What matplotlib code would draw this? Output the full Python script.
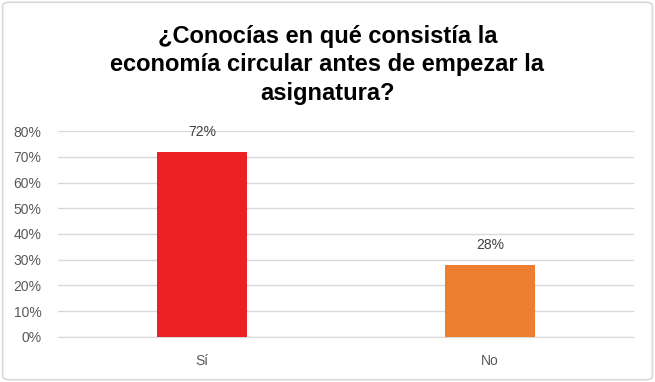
import matplotlib.pyplot as plt
from matplotlib.patches import FancyBboxPatch
from matplotlib.ticker import PercentFormatter

categories = ['Sí', 'No']
values = [0.72, 0.28]
bar_colors = ['#ED2024', '#ED7D31']
title = '¿Conocías en qué consistía la\neconomía circular antes de empezar la\nasignatura?'

plt.rcParams['font.family'] = ['Liberation Sans', 'DejaVu Sans']

fig = plt.figure(figsize=(6.55, 3.82), dpi=100)

# marco gris redondeado
frame = FancyBboxPatch((0.004, 0.006), 0.992, 0.988, boxstyle='round,pad=0,rounding_size=0.01',
                       transform=fig.transFigure, facecolor='white', edgecolor='#D9D9D9',
                       linewidth=1.2, zorder=-10)
fig.patches.append(frame)

ax = fig.add_axes([0.0885, 0.118, 0.8795, 0.539])
ax.set_facecolor('none')
x = range(len(categories))
bars = ax.bar(x, values, width=0.31, color=bar_colors, zorder=3)

ax.set_xlim(-0.5, 1.5)
ax.set_ylim(0, 0.8)
ax.set_yticks([i / 10 for i in range(9)])
ax.yaxis.set_major_formatter(PercentFormatter(1.0, decimals=0))
ax.set_xticks(list(x))
ax.set_xticklabels(categories)
ax.grid(axis='y', color='#D9D9D9', linewidth=1, zorder=0)
for s in ['top', 'right', 'left']:
    ax.spines[s].set_visible(False)
ax.spines['bottom'].set_color('#D9D9D9')
ax.tick_params(axis='both', length=0, colors='#595959', labelsize=10)
ax.tick_params(axis='y', pad=12)
ax.tick_params(axis='x', pad=12)

for b, v in zip(bars, values):
    ax.annotate('{:.0%}'.format(v), (b.get_x() + b.get_width() / 2, v), xytext=(0, 14),
                textcoords='offset points', ha='center', va='center', fontsize=10, color='#404040')

fig.text(0.5, 0.83, title, ha='center', va='center', fontsize=17, fontweight='bold',
         linespacing=1.3)

fig.savefig('out.png', dpi=100)
